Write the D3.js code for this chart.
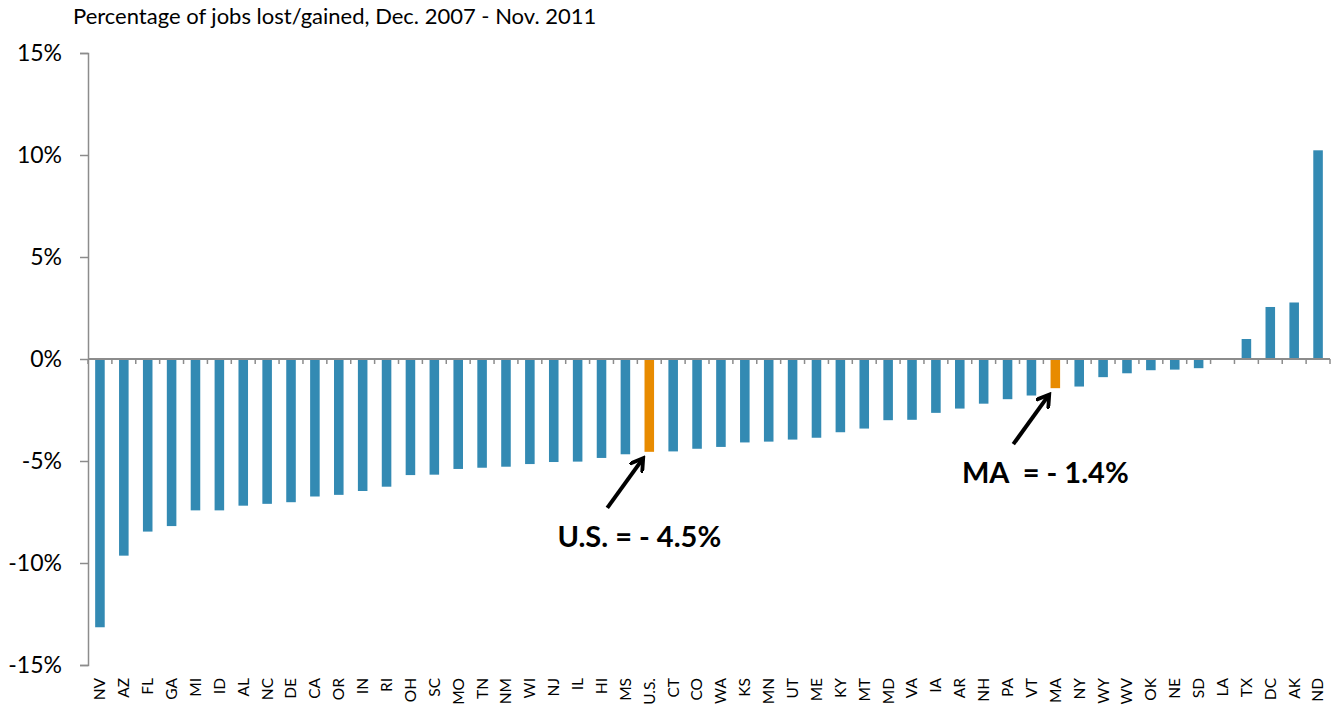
<!DOCTYPE html>
<html>
<head>
<meta charset="utf-8">
<script src="https://cdn.jsdelivr.net/npm/d3@7"></script>
<style>
  html, body { margin: 0; padding: 0; background: #fff; }
  svg { display: block; font-family: Lato, "Open Sans", sans-serif; }
</style>
</head>
<body>
<svg id="chart" width="1336" height="710"></svg>
<script>
// ---- data ----
const states = ["NV","AZ","FL","GA","MI","ID","AL","NC","DE","CA","OR","IN","RI","OH","SC",
  "MO","TN","NM","WI","NJ","IL","HI","MS","U.S.","CT","CO","WA","KS","MN","UT","ME","KY","MT",
  "MD","VA","IA","AR","NH","PA","VT","MA","NY","WY","WV","OK","NE","SD","LA","TX","DC","AK","ND"];
const pctChange = [-13.15,-9.64,-8.46,-8.19,-7.42,-7.42,-7.19,-7.10,-7.02,-6.74,-6.66,-6.47,-6.26,-5.69,-5.67,
  -5.39,-5.33,-5.28,-5.15,-5.05,-5.03,-4.85,-4.67,-4.55,-4.53,-4.40,-4.31,-4.09,-4.05,-3.95,-3.86,-3.59,-3.41,
  -3.00,-2.98,-2.64,-2.43,-2.19,-1.97,-1.79,-1.43,-1.35,-0.89,-0.70,-0.55,-0.52,-0.45,-0.02,0.98,2.55,2.77,10.23];
const highlighted = ["U.S.","MA"];
const yTicks = [-15,-10,-5,0,5,10,15];
const title = "Percentage of jobs lost/gained, Dec. 2007 - Nov. 2011";
const annotations = [
  {key: "U.S.", text: "U.S. = - 4.5%"},
  {key: "MA", text: "MA  = - 1.4%"}
];

const data = states.map((s, i) => ({state: s, value: pctChange[i]}));

// ---- layout ----
const svg = d3.select("#chart");
const plotLeft = 88, plotRight = 1330, plotTop = 53, plotBottom = 665;
const blue = "#338ab3", orange = "#e88b00", axisGray = "#8c8c8c";

const x = d3.scaleBand().domain(states).range([plotLeft, plotRight]).paddingInner(0.6).paddingOuter(0.3);
const y = d3.scaleLinear().domain([-15, 15]).range([plotBottom, plotTop]);

// title
svg.append("text")
  .attr("x", 73).attr("y", 24)
  .attr("font-size", 22)
  .attr("fill", "#000")
  .text(title);

// bars
svg.append("g").selectAll("rect")
  .data(data)
  .join("rect")
  .attr("x", d => x(d.state))
  .attr("width", x.bandwidth())
  .attr("y", d => y(Math.max(0, d.value)))
  .attr("height", d => Math.abs(y(d.value) - y(0)))
  .attr("fill", d => highlighted.includes(d.state) ? orange : blue);

// y axis
const yAxis = svg.append("g")
  .attr("transform", `translate(${plotLeft},0)`)
  .call(d3.axisLeft(y).tickValues(yTicks).tickSize(8).tickPadding(18).tickFormat(d => d + "%"));
yAxis.select(".domain").attr("stroke", axisGray).attr("stroke-width", 1.5);
yAxis.selectAll(".tick line").attr("stroke", axisGray).attr("stroke-width", 1.5);
yAxis.selectAll(".tick text").attr("font-size", 23).attr("fill", "#000")
  .attr("font-family", "Lato, 'Open Sans', sans-serif");

// x axis baseline at 0 with ticks between categories
const xAxisG = svg.append("g");
xAxisG.append("line")
  .attr("x1", plotLeft).attr("x2", plotRight)
  .attr("y1", y(0)).attr("y2", y(0))
  .attr("stroke", axisGray).attr("stroke-width", 2);
const step = x.step();
const boundaries = d3.range(states.length + 1).map(i => x.range()[0] + i * step);
xAxisG.selectAll("line.tk")
  .data(boundaries)
  .join("line")
  .attr("class", "tk")
  .attr("x1", d => d).attr("x2", d => d)
  .attr("y1", y(0)).attr("y2", y(0) + 5)
  .attr("stroke", axisGray).attr("stroke-width", 1.5);

// x labels (rotated) at bottom
svg.append("g").selectAll("text")
  .data(states)
  .join("text")
  .attr("transform", d => `translate(${x(d) + x.bandwidth() / 2},678) rotate(-90)`)
  .attr("text-anchor", "end")
  .attr("dy", "0.35em")
  .attr("font-size", 15.5)
  .attr("fill", "#000")
  .text(d => d);

// annotations
svg.append("defs").append("marker")
  .attr("id", "arrowhead")
  .attr("viewBox", "0 0 10 10")
  .attr("refX", 6).attr("refY", 5)
  .attr("markerWidth", 4).attr("markerHeight", 4)
  .attr("markerUnits", "strokeWidth")
  .attr("orient", "auto")
  .append("path")
  .attr("d", "M0,0 L8,5 L0,10")
  .attr("fill", "none")
  .attr("stroke", "#000")
  .attr("stroke-width", 2.4)
  .attr("stroke-linejoin", "miter");

const annG = svg.append("g");
annotations.forEach(a => {
  const d = data.find(e => e.state === a.key);
  const cx = x(a.key) + x.bandwidth() / 2;
  const by = y(d.value);
  const tipX = cx - 6, tipY = by + 6;
  annG.append("line")
    .attr("x1", tipX - 36).attr("y1", tipY + 50)
    .attr("x2", tipX - 2).attr("y2", tipY + 3)
    .attr("stroke", "#000").attr("stroke-width", 4)
    .attr("marker-end", "url(#arrowhead)");
  annG.append("text")
    .attr("x", cx - 10).attr("y", tipY + 89)
    .attr("text-anchor", "middle")
    .attr("font-size", 29)
    .attr("font-weight", "bold")
    .attr("fill", "#000")
    .attr("xml:space", "preserve")
    .style("white-space", "pre")
    .text(a.text);
});
</script>
</body>
</html>
